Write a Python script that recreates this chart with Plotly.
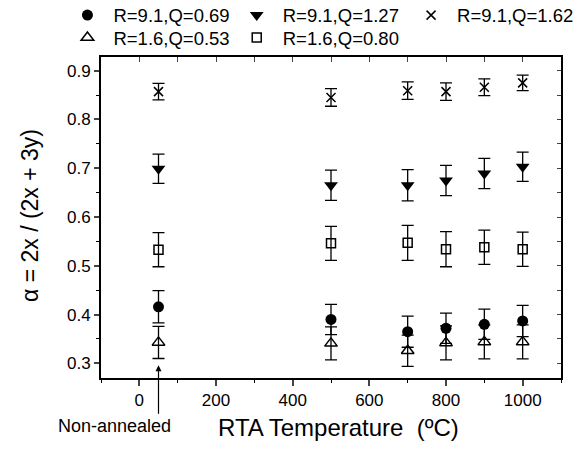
import plotly.graph_objects as go

# RTA temperature (°C); the non-annealed sample is plotted at 50
temperature = [50, 500, 700, 800, 900, 1000]

labels = ["R=9.1,Q=0.69", "R=9.1,Q=1.27", "R=9.1,Q=1.62", "R=1.6,Q=0.53", "R=1.6,Q=0.80"]

alpha_r91_q069 = [0.416, 0.390, 0.365, 0.372, 0.380, 0.387]
alpha_r91_q127 = [0.699, 0.665, 0.665, 0.675, 0.689, 0.703]
alpha_r91_q162 = [0.857, 0.845, 0.859, 0.857, 0.866, 0.875]
alpha_r16_q053 = [0.343, 0.341, 0.326, 0.342, 0.344, 0.344]
alpha_r16_q080 = [0.533, 0.546, 0.547, 0.534, 0.538, 0.534]

err_r91_q069 = [0.033, 0.031, 0.032, 0.031, 0.031, 0.032]
err_r91_q127 = [0.030, 0.031, 0.032, 0.031, 0.031, 0.030]
err_r91_q162 = [0.017, 0.018, 0.018, 0.018, 0.017, 0.016]
err_r16_q053 = [0.033, 0.034, 0.032, 0.035, 0.035, 0.035]
err_r16_q080 = [0.035, 0.035, 0.036, 0.036, 0.035, 0.035]

x_ticks = [0, 200, 400, 600, 800, 1000]
y_ticks = [0.3, 0.4, 0.5, 0.6, 0.7, 0.8, 0.9]

FONT = "Liberation Sans, Arial, sans-serif"

# (values, errors, marker) per series
series = [
    (alpha_r91_q069, err_r91_q069, dict(symbol="circle", size=11, color="black")),
    (alpha_r91_q127, err_r91_q127, dict(symbol="triangle-down", size=12, color="black")),
    (alpha_r91_q162, err_r91_q162, dict(symbol="x-thin", size=9, color="black",
                                        line=dict(width=1.5, color="black"))),
    (alpha_r16_q053, err_r16_q053, dict(symbol="triangle-up-open", size=11, color="black",
                                        line=dict(width=1.5, color="black"))),
    (alpha_r16_q080, err_r16_q080, dict(symbol="square-open", size=9, color="black",
                                        line=dict(width=1.5, color="black"))),
]

# Legend key laid out in two rows: three entries on top, two below
legend_ids = ["legend", "legend2", "legend3", "legend4", "legend5"]
legend_pos = [(-0.086, 1.129), (0.282, 1.129), (0.661, 1.129),
              (-0.086, 1.059), (0.282, 1.059)]

fig = go.Figure()
for (vals, errs, marker), name, leg in zip(series, labels, legend_ids):
    fig.add_trace(go.Scatter(
        x=temperature, y=vals, name=name, mode="markers",
        marker=marker, legend=leg,
        error_y=dict(type="data", array=errs, visible=True,
                     color="black", thickness=1.3, width=6),
        cliponaxis=False,
    ))

# Mirror axes for the top and right frame with inward ticks
fig.add_trace(go.Scatter(x=[None], y=[None], xaxis="x2", yaxis="y2",
                         showlegend=False, hoverinfo="skip"))

x_range = [-100, 1100]
y_range = [0.27, 0.928]

legend_layout = {
    leg: dict(orientation="v", x=lx, xanchor="left", y=ly, yanchor="middle",
              font=dict(size=18.5, family=FONT), tracegroupgap=0,
              itemwidth=42, bgcolor="rgba(0,0,0,0)")
    for leg, (lx, ly) in zip(legend_ids, legend_pos)
}

fig.update_layout(
    width=587, height=451,
    margin=dict(l=101, r=26, t=57, b=73, autoexpand=False),
    paper_bgcolor="white", plot_bgcolor="white",
    font=dict(family=FONT, color="black", size=17),
    showlegend=True,
    **legend_layout,
    xaxis=dict(range=x_range, tickvals=x_ticks, ticks="outside", ticklen=6,
               tickwidth=1.5, showline=True, linewidth=2, linecolor="black",
               showgrid=False, zeroline=False,
               minor=dict(dtick=100, tick0=0, ticks="outside", ticklen=3,
                          tickwidth=1.2, tickcolor="black"),
               tickfont=dict(size=17)),
    yaxis=dict(range=y_range, tickvals=y_ticks, ticktext=[f"{v:.1f}" for v in y_ticks],
               ticks="outside", ticklen=5, tickwidth=1.5, showline=True,
               linewidth=2, linecolor="black", showgrid=False, zeroline=False,
               minor=dict(dtick=0.05, tick0=0.3, ticks="outside", ticklen=3,
                          tickwidth=1.2, tickcolor="black"),
               tickfont=dict(size=17)),
    xaxis2=dict(range=x_range, overlaying="x", side="top", showticklabels=False,
                tickvals=list(range(0, 1001, 100)), ticks="inside", ticklen=5,
                tickwidth=1.2, showline=True, linewidth=2, linecolor="black",
                showgrid=False, zeroline=False),
    yaxis2=dict(range=y_range, overlaying="y", side="right", showticklabels=False,
                tickvals=[0.3 + 0.05 * i for i in range(13)], ticks="inside",
                ticklen=4, tickwidth=1.2, showline=True, linewidth=2,
                linecolor="black", showgrid=False, zeroline=False),
)

# Axis titles
fig.add_annotation(text="RTA Temperature  (ºC)", xref="paper", yref="paper",
                   x=0.517, y=-0.155, xanchor="center", yanchor="middle",
                   showarrow=False, font=dict(size=24, family=FONT))
fig.add_annotation(text="α = 2x / (2x + 3y)", xref="paper", yref="paper",
                   x=-0.154, y=0.505, xanchor="center", yanchor="middle",
                   textangle=-90, showarrow=False, font=dict(size=23, family=FONT))

# Non-annealed marker: arrow up to the first data column
fig.add_annotation(x=temperature[0], y=0.296, xref="x", yref="y", text="",
                   showarrow=True, arrowhead=2, arrowsize=1, arrowwidth=1.2,
                   arrowcolor="black", ax=0, ay=50)
fig.add_annotation(text="Non-annealed", xref="paper", yref="paper",
                   x=0.03, y=-0.15, xanchor="center", yanchor="middle",
                   showarrow=False, font=dict(size=18, family=FONT))

fig.write_html("out.html")
